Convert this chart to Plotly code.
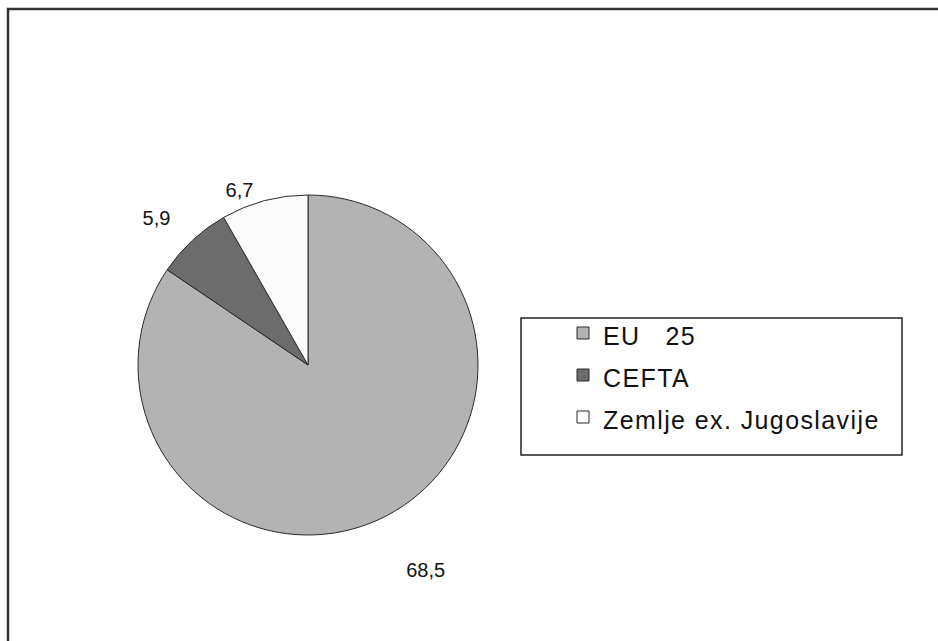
import plotly.graph_objects as go

labels = ["EU   25", "CEFTA", "Zemlje ex. Jugoslavije"]
values = [68.5, 5.9, 6.7]
colors = ["#b3b3b3", "#6c6c6c", "#fbfbfb"]
# per-slice label templates (padding lines / spaces only nudge the label outward)
label_templates = [
    "&nbsp;<br>&nbsp;<br>%{value:.1f}",
    "%{value:.1f}&nbsp;&nbsp;<br><span style='font-size:1px'>&nbsp;</span>",
    "%{value:.1f}&nbsp;",
]

W, H = 938, 641
cx, cy, r = 308, 365, 170

legend_labels = ['<span style="font-size:25px;letter-spacing:1.4px">%s</span>' % s for s in labels]

fig = go.Figure(go.Pie(
    labels=legend_labels,
    values=values,
    sort=False,
    direction="clockwise",
    rotation=0,
    marker=dict(colors=colors, line=dict(color="#2a2a2a", width=1)),
    textposition="outside",
    texttemplate=label_templates,
    textfont=dict(family="Liberation Sans, Arial", size=20, color="#111"),
    domain=dict(x=[(cx - r) / W, (cx + r) / W], y=[(H - cy - r) / H, (H - cy + r) / H]),
    hoverinfo="value",
))

fig.update_layout(
    width=W, height=H,
    margin=dict(l=0, r=0, t=0, b=0),
    paper_bgcolor="white",
    separators=",.",
    showlegend=True,
    legend=dict(
        x=563 / W, y=(H - 307) / H, xanchor="left", yanchor="top",
        borderwidth=0, bgcolor="rgba(0,0,0,0)",
        font=dict(family="Liberation Sans, Arial", size=30, color="#111"),
    ),
    shapes=[
        dict(type="rect", xref="paper", yref="paper",
             x0=8 / W, x1=1.05, y0=-0.05, y1=(H - 9) / H,
             line=dict(color="#333", width=2.5)),
        dict(type="rect", xref="paper", yref="paper", layer="below",
             x0=521 / W, x1=902 / W, y0=(H - 455) / H, y1=(H - 318) / H,
             line=dict(color="#222", width=1.5), fillcolor="white"),
    ],
)

fig.write_html("out.html", config={"displayModeBar": False},
               post_script="document.body.style.margin='0px';")
